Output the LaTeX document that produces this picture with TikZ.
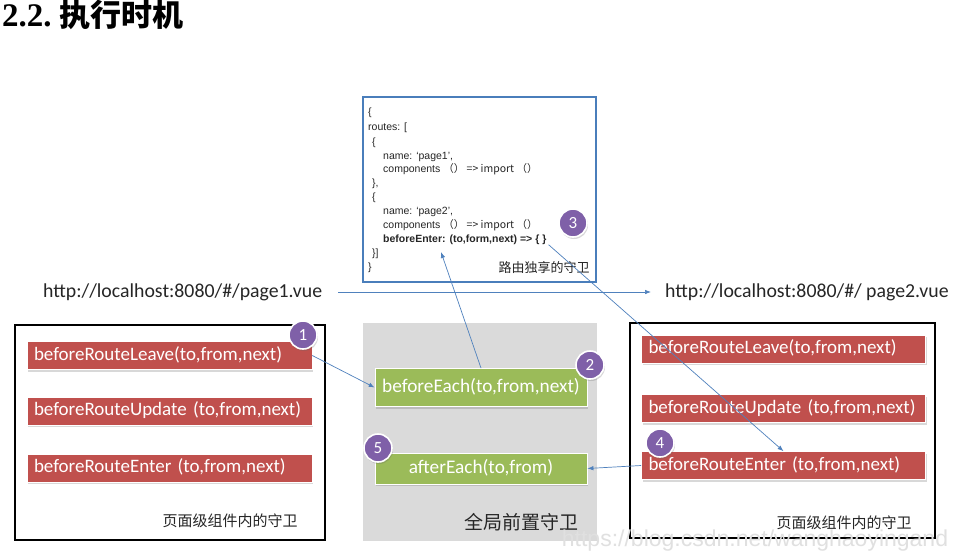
\documentclass[tikz,border=0pt]{standalone}
\usepackage{fontspec}
\setmainfont{Carlito}
\newfontfamily\cjk{Noto Sans CJK SC}
\newfontfamily\arialf{Liberation Sans}
\newfontfamily\serifb{Liberation Serif}
\usetikzlibrary{shadows,arrows.meta}
\definecolor{rbox}{HTML}{C0504D}
\definecolor{gbox}{HTML}{9BBB59}
\definecolor{pcirc}{HTML}{7F60A8}
\definecolor{lblue}{HTML}{4F81BD}
\definecolor{cblue}{HTML}{4A7EBB}
\definecolor{greg}{HTML}{DADADA}
\tikzset{
  softshadow/.style={drop shadow={shadow xshift=1pt, shadow yshift=-2pt, opacity=0.25, fill=black!60}},
  redbox/.style={fill=rbox, draw=white, line width=0.6pt, text=white,
    font=\fontsize{19}{22}\selectfont, minimum height=28pt, text width=#1,
    inner xsep=7pt, inner ysep=0pt, align=left, text height=13pt, text depth=4pt, softshadow},
  greenbox/.style={fill=gbox, draw=white, line width=0.8pt, text=white,
    font=\fontsize{19.3}{22}\selectfont, minimum width=212pt, minimum height=#1,
    inner sep=0pt, text height=13pt, text depth=4pt, softshadow},
  numc/.style={circle, fill=pcirc, draw=white, line width=1.6pt, minimum size=28pt,
    inner sep=0pt, text=white, font=\fontsize{17}{17}\selectfont, softshadow},
  codel/.style={anchor=west, inner sep=0pt, font=\arialf\fontsize{10.5}{12}\selectfont,
    text height=7pt, text depth=2pt, text=black!85},
  pagebox/.style={draw=black, line width=1.8pt, inner sep=0pt},
  conn/.style={draw=lblue, line width=0.7pt, -{Latex[length=6pt,width=4.5pt]}},
  cjklabel/.style={inner sep=0pt, font=\cjk\fontsize{#1}{#1}\selectfont, text=black!85},
  url/.style={anchor=west, inner sep=0pt, font=\fontsize{19.8}{22}\selectfont, text=black!85}
}
\begin{document}
\begin{tikzpicture}[x=1pt,y=-1pt]
\useasboundingbox (0,0) rectangle (958,558);
\fill[white] (0,0) rectangle (958,558);

% title
\node[anchor=west, inner sep=0pt] (title) at (2,15)
  {\serifb\bfseries\fontsize{33}{33}\selectfont 2.2.\ \cjk\bfseries\fontsize{31}{31}\selectfont 执行时机};

% gray global region
\node[fill=greg, minimum width=234pt, minimum height=218pt, inner sep=0pt] (global) at (480,432) {};

% page boxes
\node[pagebox, minimum width=310pt, minimum height=215pt] (lpage) at (170,432.5) {};
\node[pagebox, minimum width=305pt, minimum height=215pt] (rpage) at (782.5,430.5) {};

% code box
\node[draw=cblue, line width=1.3pt, minimum width=233pt, minimum height=185pt, inner sep=0pt, fill=white] (code) at (479.5,189.5) {};
\node[codel] (k1) at (368,113) {\{};
\node[codel] (k2) at (368,128) {routes: [};
\node[codel] (k3) at (372,143) {\{};
\node[codel] (k4) at (383,157) {name: ‘page1’,};
\node[codel] (k5) at (383,170) {components \cjk{（）} => import \cjk{（）}};
\node[codel] (k6) at (372,184) {\},};
\node[codel] (k7) at (372,198) {\{};
\node[codel] (k8) at (383,212) {name: ‘page2’,};
\node[codel] (k9) at (383,226) {components \cjk{（）} => import \cjk{（）}};
\node[codel, font=\arialf\bfseries\fontsize{10.5}{12}\selectfont] (k10) at (383,240) {beforeEnter: (to,form,next) => \{ \}};
\node[codel] (k11) at (372,254) {\}]};
\node[codel] (k12) at (368,268) {\}};
\node[cjklabel=13] (routeguard) at (544,268) {路由独享的守卫};

% URLs
\node[url] (url1) at (43,292) {http://localhost:8080/\#/page1.vue};
\node[url] (url2) at (665,292) {http://localhost:8080/\#/ page2.vue};

% left page guards
\node[redbox=271pt] (lleave) at (169.5,355.5) {beforeRouteLeave(to,from,next)};
\node[redbox=271pt] (lupdate) at (169.5,411) {beforeRouteUpdate (to,from,next)};
\node[redbox=271pt] (lenter) at (169.5,468) {beforeRouteEnter (to,from,next)};
\node[cjklabel=15] (llabel) at (230,521) {页面级组件内的守卫};

% global guards
\node[greenbox=38pt] (beach) at (481,387.5) {beforeEach(to,from,next)};
\node[greenbox=31pt] (aeach) at (481,468.5) {afterEach(to,from)};
\node[cjklabel=19] (glabel) at (521.5,522) {全局前置守卫};

% right page guards
\node[redbox=270pt] (rleave) at (783.5,349) {beforeRouteLeave(to,from,next)};
\node[redbox=270pt] (rupdate) at (783.5,408.5) {beforeRouteUpdate (to,from,next)};
\node[redbox=270pt] (renter) at (783.5,465.5) {beforeRouteEnter (to,from,next)};
\node[cjklabel=15] (rlabel) at (844,523) {页面级组件内的守卫};

% connectors
\coordinate (p2) at (441,252);
\draw[conn, shorten <=16pt, shorten >=14pt] (url1.east) -- (url2.west);
\draw[conn] (lleave.east) -- (beach.west);
\draw[conn] (beach.north) -- (p2);
\draw[conn] ([xshift=2pt]k10.south east) -- (renter.north);
\draw[conn] (renter.west) -- (aeach.east);

% step numbers
\node[numc] (n1) at (303,335) {1};
\node[numc] (n2) at (590,365) {2};
\node[numc] (n3) at (573,223) {3};
\node[numc] (n4) at (660,443) {4};
\node[numc] (n5) at (378,448) {5};

% watermark
\node[inner sep=0pt, text=black!12, font=\arialf\fontsize{23}{23}\selectfont] (wm) at (755,541) {https://blog.csdn.net/wanghaoyingand};
\end{tikzpicture}
\end{document}
